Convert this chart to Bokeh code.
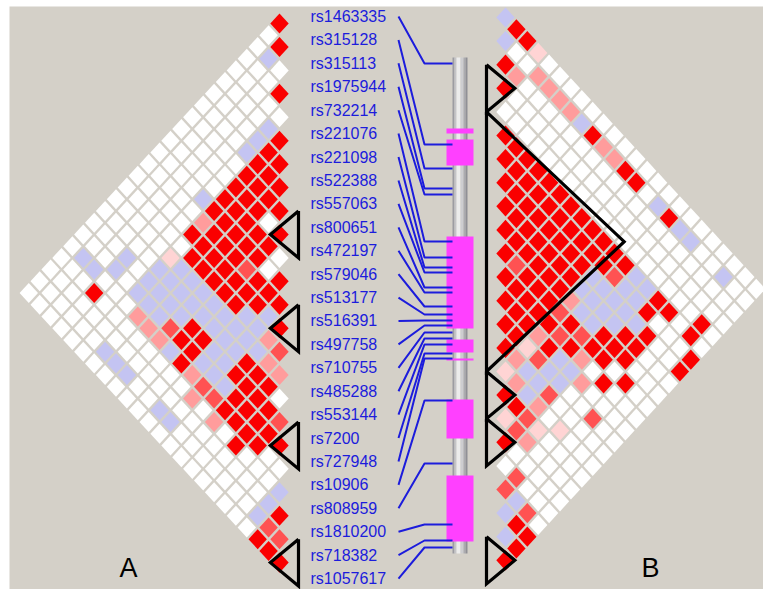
from bokeh.plotting import figure
from bokeh.models import Range1d
from bokeh.embed import file_html
from bokeh.resources import INLINE
from bokeh.core.properties import value

# ---------------- data ----------------
snps = ["rs1463335", "rs315128", "rs315113", "rs1975944", "rs732214", "rs221076",
        "rs221098", "rs522388", "rs557063", "rs800651", "rs472197", "rs579046",
        "rs513177", "rs516391", "rs497758", "rs710755", "rs485288", "rs553144",
        "rs7200", "rs727948", "rs10906", "rs808959", "rs1810200", "rs718382",
        "rs1057617"]

# relative position of each SNP along the gene (gene length = 496 units)
snp_pos = [6, 87, 111, 131, 137, 184, 200, 210, 215, 230, 235, 249, 257, 263,
           268, 275, 281, 287, 296, 301, 343, 406, 467, 483, 490]
gene_len = 496
exon_start = [71, 82, 179, 282, 301, 342, 418]
exon_end = [76, 108, 271, 295, 303, 381, 484]

# LD matrices: row i lists pairs (i, j) for j = i+1 .. 24
# R strong red, M medium red, P pink, Q light pink, L lavender, W white
ld_A = [
    "RWWWWWWWWWWWWWWWWWWWWWWW",
    "RLWWWWWWWWWWWWWWWWLWWWW",
    "WWWWWWWWWWWWWWWWWLWWWW",
    "RWWWWWWWWWWWWWLLWRWWW",
    "WLLLWWWLWWWWWWWWWWWW",
    "RRRRRRRPRWQLLLWWWWW",
    "RRRRRRRRRLLLLPWWLW",
    "RRRRRRRRLLLLPWWLW",
    "RWRRRRRLLLMPWWLW",
    "RRRMRRLLRRLWWWW",
    "WWRRRLLRRRWWWW",
    "RRRLLLLLPWWLW",
    "RLLLLLLMPWLW",
    "RPLRRLMWWWW",
    "MPRRRRPWWW",
    "PRRRRWWWW",
    "WRRRRWWW",
    "MRRWWWW",
    "RWWWWW",
    "WWWWW",
    "LLLW",
    "RMR",
    "MR",
    "R",
]

ld_B = [
    "LRRQWWWWWWWWWWWWWWWWWWWW",
    "LWWPPPPLRPPRRWLRLLWWLWW",
    "RPWWWWWWWWWWWWWWWWWWWW",
    "RWWWWWWWWWWWWWWWWWWWW",
    "WWWWWWWWWWWWWWWWWWRW",
    "RRRRRRRRRRRRLLRRWRW",
    "RRRRRRRRRRMLLRWWWR",
    "RRRRRRRRLLLLLRWWR",
    "RRRRRRRLLLLRRWWW",
    "RRRRRRPLLRRRWWW",
    "RMRRRMRMRRWRWW",
    "RRRRRMRPWRWWW",
    "RRRPRLLPWWWW",
    "RRQMLLWWMWW",
    "RPLLMWWWWW",
    "QPLPWQWWW",
    "RRMQWWWW",
    "QMPWWWW",
    "RWWWWW",
    "WMWWW",
    "MLMW",
    "LRR",
    "LR",
    "R",
]

blocks_A = [(9, 10), (13, 14), (18, 19), (23, 24)]
blocks_B = [(3, 4), (5, 15), (16, 17), (18, 19), (23, 24)]
panel_names = ["A", "B"]

# ---------------- styling ----------------
colors = {"R": "#fa0000", "M": "#ff5252", "P": "#ff9c9c", "Q": "#ffd4d4",
          "L": "#c4c4f2", "W": "#ffffff"}
BG = "#d4d0c8"
BLUE = "#1c1cdc"

W, H = 763, 589
LEFT, TOP = 9, 6
p = figure(width=W, height=H, output_backend="svg", toolbar_location=None,
           x_range=Range1d(LEFT, W), y_range=Range1d(H, TOP),
           min_border_left=LEFT, min_border_top=TOP, min_border_right=0,
           min_border_bottom=0, background_fill_color=BG,
           border_fill_color="white")
p.axis.visible = False
p.grid.visible = False
p.outline_line_color = None

n = len(snps)


def panel(ld, x1, sign, y0, dx, dy):
    xs, ys, cs = [], [], []
    for i in range(n - 1):
        row = ld[i]
        for j in range(i + 1, n):
            c = row[j - i - 1]
            k = j - i
            m = i + j - 1
            cx = x1 + sign * (k - 1) * dx
            cy = y0 + m * dy
            hw = dx - 1.7
            hh = dy - 1.7
            xs.append([cx - hw, cx, cx + hw, cx])
            ys.append([cy, cy - hh, cy, cy + hh])
            cs.append(colors[c])
    p.patches(xs, ys, fill_color=cs, line_color=None)


def triangles(blocks, x1, sign, y0, dx, dy):
    xs, ys = [], []
    xe = x1 - sign * 19
    for a, b in blocks:
        ytop = y0 + (2 * a - 2) * dy
        ybot = y0 + 2 * b * dy
        ymid = y0 + (a + b - 1) * dy
        xt = xe + sign * (1.03 * (ybot - ytop) / 2 + 4)
        xs.append([xe, xe, xt, xe])
        ys.append([ytop, ybot, ymid, ytop])
    p.multi_line(xs, ys, line_color="black", line_width=3.2, line_join="miter")


# left panel (A) and right panel (B)
A_x1, A_y0, A_dx, A_dy = 279, 23, 10.9, 11.72
B_x1, B_y0, B_dx, B_dy = 505, 17, 10.9, 11.8
panel(ld_A, A_x1, -1, A_y0, A_dx, A_dy)
panel(ld_B, B_x1, 1, B_y0, B_dx, B_dy)
triangles(blocks_A, A_x1, -1, A_y0, A_dx, A_dy)
triangles(blocks_B, B_x1, 1, B_y0, B_dx, B_dy)

# gene structure
g_top = 57
bar_strips = [(452, 454, "#9c9ca2"), (454, 456, "#c4c4c8"), (456, 460, "#ececec"),
              (460, 463, "#cdcdd0"), (463, 465, "#ababb0"), (465, 467, "#909096")]
for x0, x1_, c in bar_strips:
    p.quad(left=x0, right=x1_, top=g_top, bottom=g_top + gene_len, fill_color=c,
           line_color=None)
p.quad(left=446, right=473, top=[g_top + s for s in exon_start],
       bottom=[g_top + e for e in exon_end], fill_color="#ff40ff", line_color=None)

# labels and connecting lines
lab_y0, lab_dy = 16, 23.42
lab_y = [lab_y0 + lab_dy * i for i in range(n)]
lx, ly = [], []
for i in range(n):
    gy = g_top + snp_pos[i]
    lx.append([398, 424, 452])
    ly.append([lab_y[i], gy, gy])
p.multi_line(lx, ly, line_color=BLUE, line_width=2)
p.text(x=[310] * n, y=lab_y, text=snps, text_color=BLUE,
       text_font=value("Liberation Sans"), text_font_size="16px",
       text_baseline="middle", text_align="left")

p.text(x=[128, 650], y=[567, 567], text=panel_names, text_color="black",
       text_font=value("Liberation Sans"), text_font_size="27px",
       text_baseline="middle", text_align="center")

open("out.html", "w").write(file_html(p, INLINE))
